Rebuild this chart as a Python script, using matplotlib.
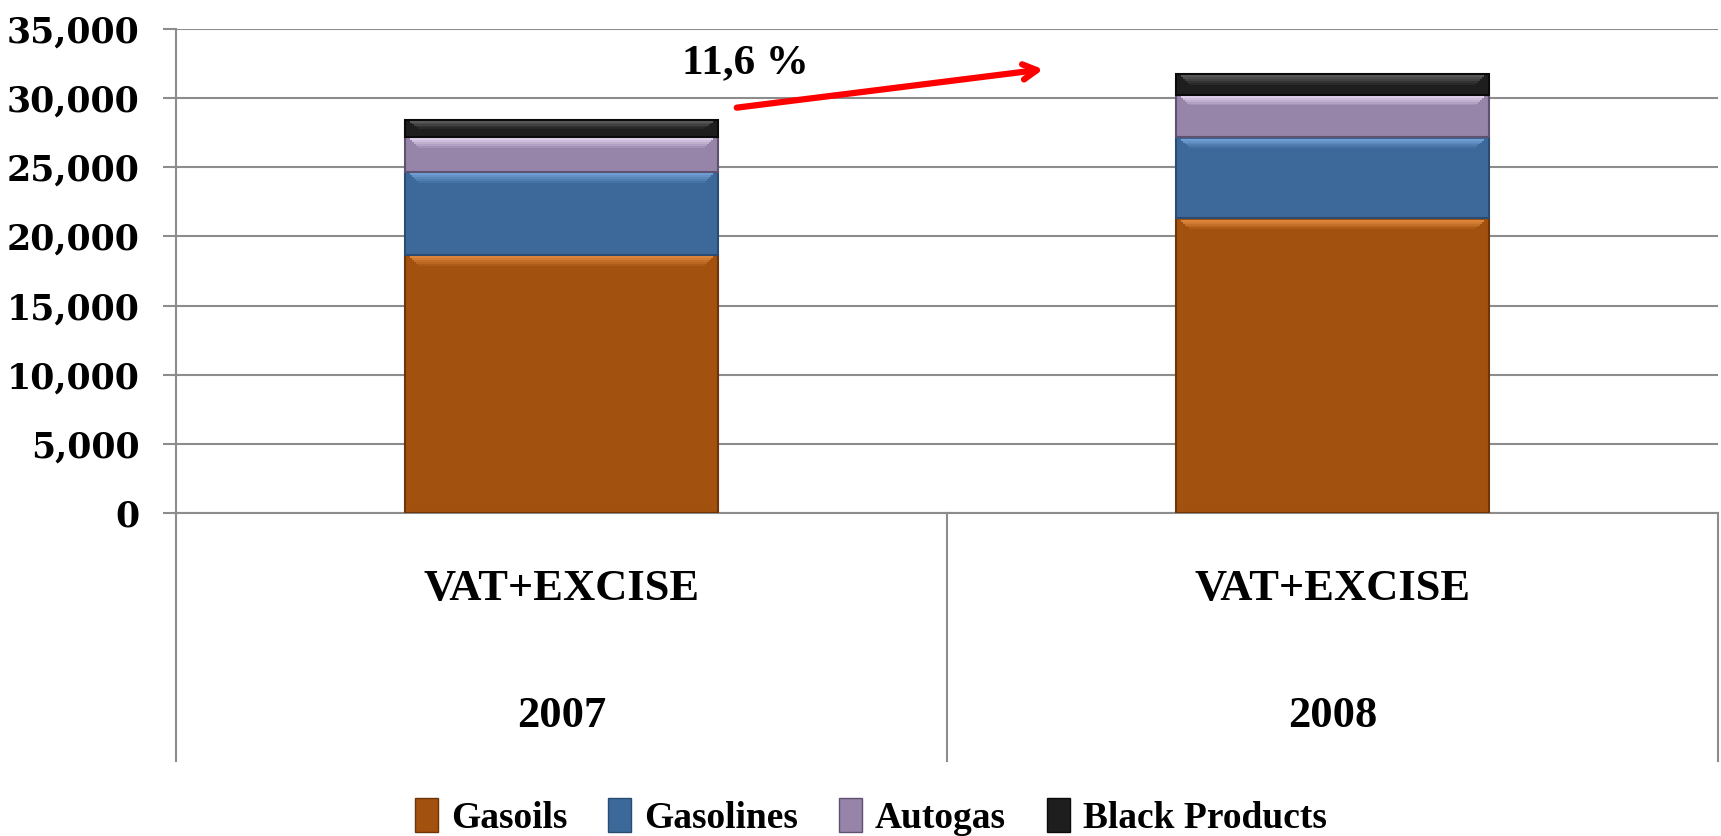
import matplotlib.pyplot as plt
import matplotlib.transforms as mtransforms
from matplotlib.patches import Patch
from matplotlib.ticker import FuncFormatter

# data
years = ['2007', '2008']
group_label = 'VAT+EXCISE'
gasoils = [18650, 21300]
gasolines = [6000, 5860]
autogas = [2530, 3100]
black_products = [1230, 1470]
series_names = ['Gasoils', 'Gasolines', 'Autogas', 'Black Products']
growth_label = '11,6 %'

base_colors = ['#A3510F', '#3D699A', '#9684A9', '#1E1E1E']
light_colors = ['#F0964A', '#80AEE4', '#F4E6FF', '#6A6A6A']
edge_colors = ['#6E3608', '#2A4C73', '#5E5270', '#0A0A0A']

plt.rcParams['font.family'] = ['Liberation Serif', 'DejaVu Serif']
plt.rcParams['font.weight'] = 'bold'
grid_col = '#8C8C8C'

fig = plt.figure(figsize=(17.21, 8.36), dpi=100)
ax = fig.add_axes([176 / 1721, 1 - 513 / 836, (1718 - 176) / 1721, (513 - 29) / 836])

x = [0, 1]
width = 0.405
series = [gasoils, gasolines, autogas, black_products]
bottoms = [0, 0]
for vals, c, lc, ec in zip(series, base_colors, light_colors, edge_colors):
    ax.bar(x, vals, width, bottom=bottoms, color=c, edgecolor=ec, linewidth=1.5, zorder=3)
    tops = [b + v for b, v in zip(bottoms, vals)]
    # bevel-like highlight: light band at the top of each segment fading down
    steps = 5
    for k in range(steps):
        h = [min(700, v * 0.45) / steps for v in vals]
        ax.bar(x, h, width * (0.97 - 0.012 * k),
               bottom=[t - 90 - (k + 1) * hh for t, hh in zip(tops, h)],
               color=lc, alpha=0.75 * (1 - k / steps), linewidth=0, zorder=4)
    bottoms = tops

ax.set_xlim(-0.5, 1.5)
ax.set_ylim(0, 35000)
ax.set_yticks(range(0, 35001, 5000))
ax.yaxis.set_major_formatter(FuncFormatter(lambda v, p: f'{int(v):,}'))
ax.grid(axis='y', color=grid_col, linewidth=1.5, zorder=0)
ax.set_axisbelow(True)
ax.tick_params(axis='y', length=9.4, width=1.5, color=grid_col, pad=17)
ax.set_xticks([])
for s in ['top', 'right']:
    ax.spines[s].set_visible(False)
ax.spines['left'].set_color(grid_col)
ax.spines['left'].set_linewidth(1.5)
ax.spines['bottom'].set_color(grid_col)
ax.spines['bottom'].set_linewidth(1.5)
for lab in ax.get_yticklabels():
    lab.set_fontweight('bold')
    lab.set_family('DejaVu Serif')
    lab.set_fontsize(25)

# multi-level category axis below the plot
trans = mtransforms.blended_transform_factory(ax.transData, ax.transAxes)
low = -(761 - 513) / 484
for xv in [-0.5, 0.5, 1.5]:
    ax.plot([xv, xv], [0, low], color=grid_col, linewidth=1.5, transform=trans, clip_on=False)
for xv, yr in zip(x, years):
    ax.text(xv, -(589 - 513) / 484, group_label, transform=trans, ha='center', va='center',
            fontsize=32, fontweight='bold')
    ax.text(xv, -(716 - 513) / 484, yr, transform=trans, ha='center', va='center',
            fontsize=32, fontweight='bold')

# growth arrow
fig.text(745 / 1721, 1 - 63 / 836, growth_label, ha='center', va='center',
         fontsize=31, fontweight='bold')
ax.annotate('', xy=(1046 / 1721, 1 - 69 / 836), xycoords='figure fraction',
            xytext=(734 / 1721, 1 - 108 / 836), textcoords='figure fraction',
            arrowprops=dict(arrowstyle='->,head_length=1.0,head_width=0.55',
                            color='red', lw=4.5))

handles = [Patch(facecolor=c, edgecolor=ec, linewidth=1) for c, ec in zip(base_colors, edge_colors)]
fig.legend(handles, series_names, loc='center', bbox_to_anchor=(0.506, 1 - 817 / 836),
           ncol=4, frameon=False, handlelength=0.6, handleheight=1.0,
           handletextpad=0.35, columnspacing=1.1, prop={'weight': 'bold', 'size': 27})

fig.savefig('out.png', dpi=100)
